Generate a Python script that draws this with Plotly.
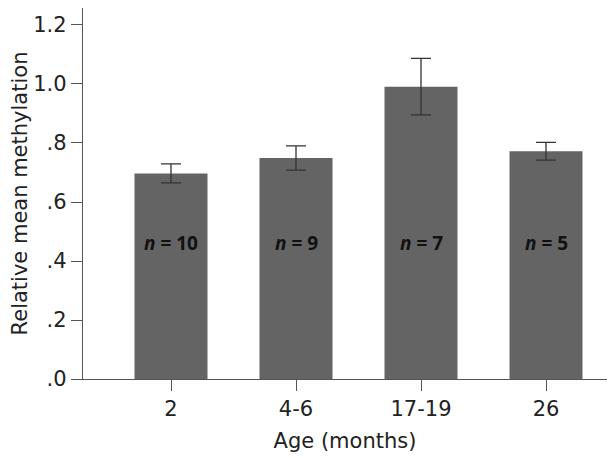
import plotly.graph_objects as go

categories = ["2", "4-6", "17-19", "26"]
means = [0.697, 0.749, 0.991, 0.772]
errors = [0.032, 0.041, 0.096, 0.030]
n_labels = ["10", "9", "7", "5"]
y_tickvals = [0, 0.2, 0.4, 0.6, 0.8, 1.0, 1.2]
y_ticktext = [".0", ".2", ".4", ".6", ".8", "1.0", "1.2"]
label_y = 0.46

x_pos = list(range(len(categories)))

fig = go.Figure()
fig.add_trace(go.Bar(
    x=x_pos, y=means, width=0.584,
    marker=dict(color="#646464", line=dict(width=0)),
    error_y=dict(type="data", array=errors, visible=True, color="#333333", thickness=1.3, width=10),
    showlegend=False,
))

for xp, n in zip(x_pos, n_labels):
    fig.add_annotation(x=xp, y=label_y, text="<b><i>n</i> = " + n + "</b>", showarrow=False,
                       font=dict(family="Open Sans", size=19, color="#111111"))

axis_font = dict(family="DejaVu Sans", size=21, color="#222222")
fig.update_layout(
    width=607, height=450,
    margin=dict(l=75, r=8, t=0, b=79),
    plot_bgcolor="white", paper_bgcolor="white",
    xaxis=dict(range=[-0.704, 3.488], tickvals=x_pos, ticktext=categories,
               ticks="outside", ticklen=11, tickcolor="#555555", tickwidth=1.3,
               showline=True, linecolor="#555555", linewidth=1.3, mirror=True,
               showgrid=False, zeroline=False, tickfont=axis_font, automargin=False,
               title=dict(text="Age (months)", font=axis_font, standoff=12)),
    yaxis=dict(range=[0, 1.2576], tickvals=y_tickvals, ticktext=y_ticktext,
               ticks="outside", ticklen=11, tickcolor="#555555", tickwidth=1.3,
               showline=True, linecolor="#555555", linewidth=1.3, mirror=True,
               showgrid=False, zeroline=False, tickfont=axis_font, automargin=False,
               title=dict(text="Relative mean methylation", font=axis_font, standoff=8)),
)

fig.write_html("out.html")
